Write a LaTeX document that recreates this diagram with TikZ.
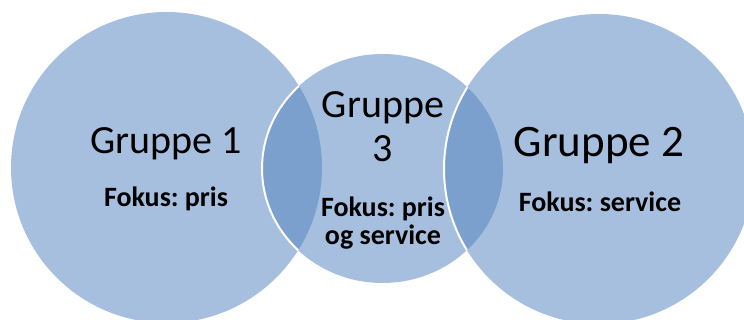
\documentclass[tikz,border=0pt]{standalone}
\usepackage{fontspec}
\setmainfont{Carlito}
\frenchspacing
\definecolor{venn}{HTML}{A7BFDE}
\definecolor{vennlap}{HTML}{7BA0CD}
\begin{document}
\begin{tikzpicture}[x=1pt,y=-1pt,
  title/.style={font=\fontsize{40}{44}\selectfont, anchor=base, inner sep=0pt},
  bigtitle/.style={font=\fontsize{45}{50}\selectfont, anchor=base, inner sep=0pt},
  focus/.style={font=\bfseries\fontsize{28}{28}\selectfont, anchor=base, inner sep=0pt},
  rim/.style={draw=white, line width=2pt}]
\useasboundingbox (0,0) rectangle (744,320);
% the three group circles
\def\leftc{(166.5,167.5) circle [radius=155.5pt]}
\def\midc{(382.5,168.5) ellipse [x radius=120.5pt, y radius=114.5pt]}
\def\rightc{(599,169) circle [radius=155pt]}
\fill[venn] \leftc;
\fill[venn] \midc;
\fill[venn] \rightc;
% overlaps
\begin{scope}
  \clip \leftc;
  \fill[vennlap] \midc;
\end{scope}
\begin{scope}
  \clip \midc;
  \fill[vennlap] \rightc;
\end{scope}
% white rims where a circle lies on top of its neighbour
\begin{scope}
  \clip \leftc;
  \path[rim] \midc;
\end{scope}
\begin{scope}
  \clip \midc;
  \path[rim] \rightc;
\end{scope}
% labels
\node[title] (g1) at (166,154) {Gruppe 1};
\node[focus] (f1) at (166,207) {Fokus: pris};
\node[title] (g3a) at (383,118) {Gruppe};
\node[title] (g3b) at (383,162) {3};
\node[focus] (f3a) at (383,217) {Fokus: pris};
\node[focus] (f3b) at (383,245) {og service};
\node[bigtitle] (g2) at (599,157) {Gruppe 2};
\node[focus] (f2) at (600,212) {Fokus: service};
\end{tikzpicture}
\end{document}
